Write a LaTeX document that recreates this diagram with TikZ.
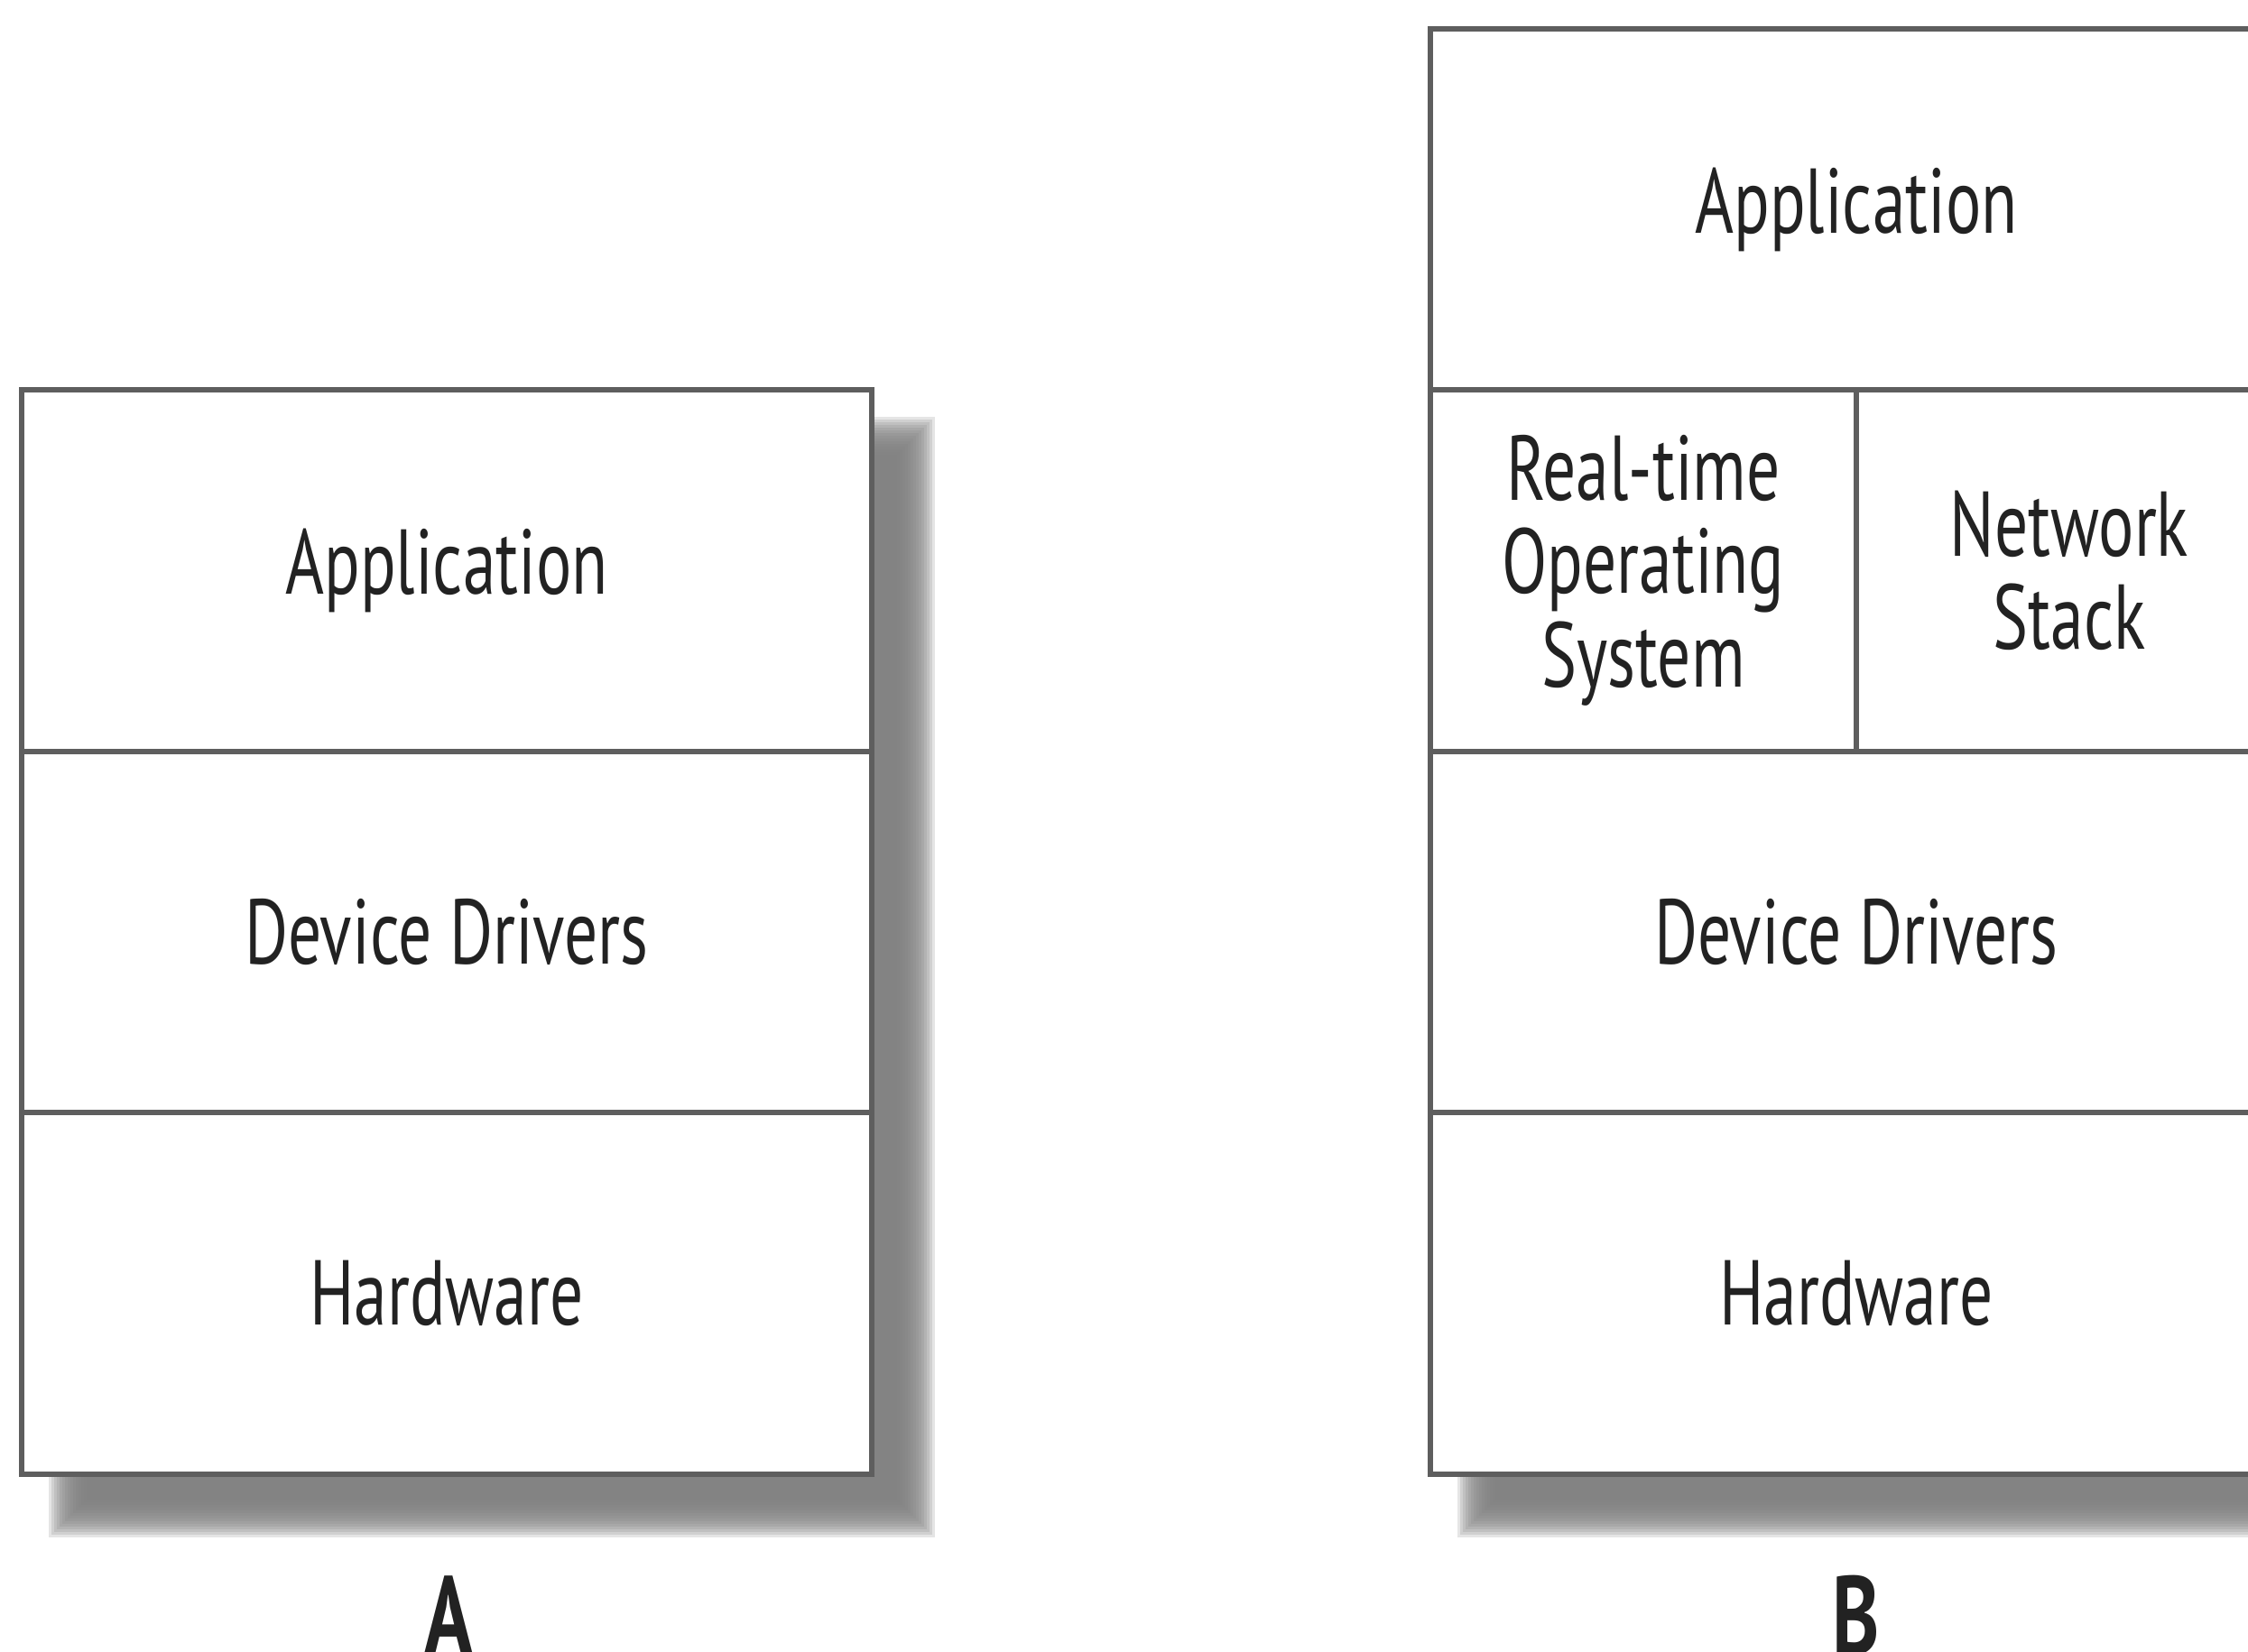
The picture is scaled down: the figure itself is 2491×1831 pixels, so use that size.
\documentclass[tikz,border=0pt]{standalone}
\usepackage{fontspec}
\newfontfamily\condfont[FakeStretch=0.72]{PT Sans}
\newfontfamily\condbold[FakeStretch=0.72]{PT Sans Bold}
\definecolor{linegray}{HTML}{5E5E5E}
\definecolor{textgray}{HTML}{222222}
\tikzset{
  cell/.style={draw=linegray, line width=1.7pt, fill=white, inner sep=0pt,
    text=textgray, align=center,
    font=\condfont\fontsize{29}{29.5}\selectfont},
  panellabel/.style={inner sep=0pt, anchor=base, text=textgray,
    font=\condbold\fontsize{35}{36}\selectfont},
}
\begin{document}
\begin{tikzpicture}[x=0.01cm, y=-0.01cm]
\useasboundingbox (0,0) rectangle (2491,1831);
\clip (0,0) rectangle (2491,1831);
\fill[white] (0,0) rectangle (2491,1831);
% blurred drop shadows
\foreach \r in {20,17,...,-22}{
  \fill[black!50, fill opacity=0.2] (74-\r,482-\r) rectangle (1016+\r,1684+\r);
  \fill[black!50, fill opacity=0.2] (1635-\r,82-\r) rectangle (2579+\r,1684+\r);
}
% Panel A
\node[cell, minimum width=9.42cm, minimum height=4.007cm] (aapp) at (495,632.3) {Application};
\node[cell, minimum width=9.42cm, minimum height=4.007cm] (adrv) at (495,1033) {Device Drivers};
\node[cell, minimum width=9.42cm, minimum height=4.007cm] (ahw)  at (495,1433.7) {Hardware};
% Panel B
\node[cell, minimum width=9.44cm, minimum height=4.0cm] (bapp) at (2057,232) {Application};
\node[cell, minimum width=4.72cm, minimum height=4.007cm] (brtos) at (1821,632.3) {Real-time\\Operating\\System};
\node[cell, minimum width=4.72cm, minimum height=4.007cm] (bnet) at (2293,632.3) {Network\\Stack};
\node[cell, minimum width=9.44cm, minimum height=4.007cm] (bdrv) at (2057,1033) {Device Drivers};
\node[cell, minimum width=9.44cm, minimum height=4.007cm] (bhw)  at (2057,1433.7) {Hardware};
% labels
\node[panellabel] (la) at (497,1833) {A};
\node[panellabel] (lb) at (2057,1833) {B};
\end{tikzpicture}
\end{document}
